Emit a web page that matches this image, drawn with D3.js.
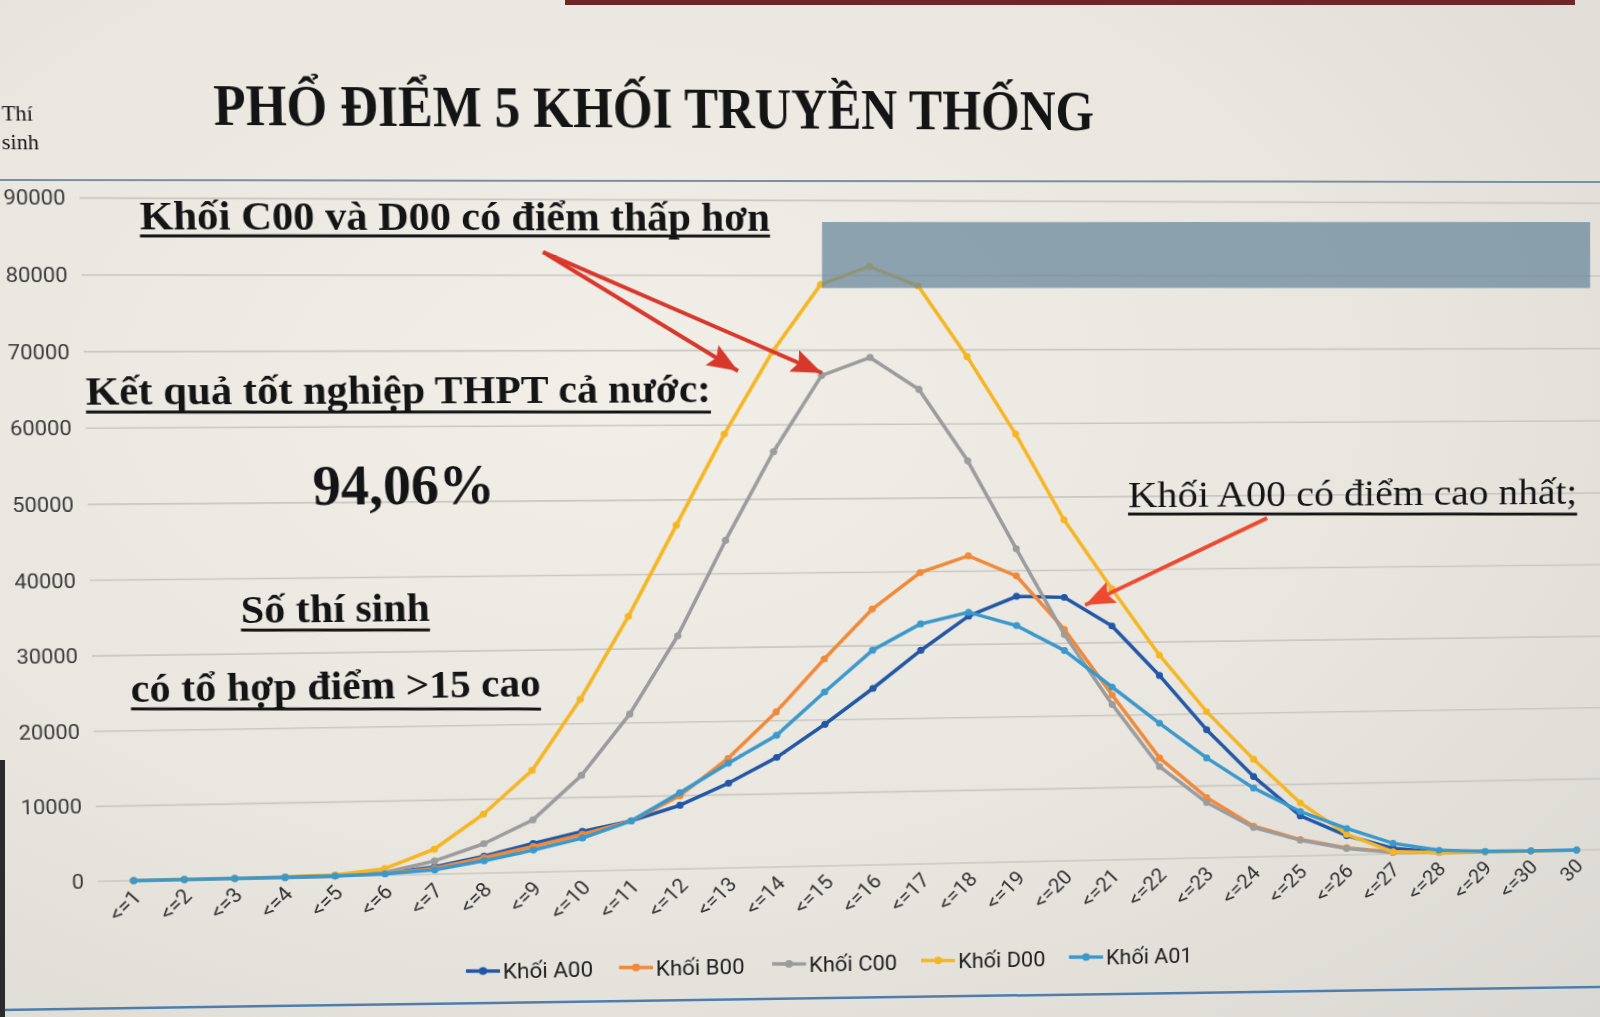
<!DOCTYPE html>
<html>
<head>
<meta charset="utf-8">
<script src="https://cdn.jsdelivr.net/npm/d3@7"></script>
<style>
html, body { margin: 0; padding: 0; width: 1600px; height: 1017px; overflow: hidden; }
body { background: radial-gradient(ellipse at 38% 38%, #f2efe9 0%, #e9e6df 55%, #dad8d2 100%); }
#chart { position: absolute; left: 0; top: 0; transform-origin: 0 0; overflow: visible; }
#frame { position: absolute; left: 0; top: 0; }
</style>
</head>
<body>
<svg id="chart" width="1600" height="1017"></svg>
<svg id="frame" width="1600" height="1017"></svg>
<script>
// ---------------- data ----------------
const categories = ["<=1","<=2","<=3","<=4","<=5","<=6","<=7","<=8","<=9","<=10",
  "<=11","<=12","<=13","<=14","<=15","<=16","<=17","<=18","<=19","<=20",
  "<=21","<=22","<=23","<=24","<=25","<=26","<=27","<=28","<=29","<=30","30"];

const khoiA00 = [0,0,0,20,80,300,1000,2300,3900,5400,6700,8700,11600,15000,19400,24200,
  29300,33900,36500,36300,32300,25400,17800,11200,5600,2700,800,150,50,20,10];
const khoiB00 = [0,0,0,10,60,250,800,2100,3500,5000,6700,10000,15000,21200,28300,35000,
  39900,42100,39300,31900,22800,14000,8400,4300,2300,1000,300,80,20,5,0];
const khoiC00 = [0,0,0,10,50,400,1800,4000,7100,13000,21200,31700,44500,56400,66600,69000,
  64700,55000,43000,31200,21500,12800,7700,4100,2200,900,200,50,10,0,0];
const khoiD00 = [0,0,10,50,200,900,3400,8000,13800,23300,34400,46600,58800,69800,78800,81200,
  78600,69100,58600,46900,37400,28200,20300,13600,7400,2900,300,50,10,0,0];
const khoiA01 = [0,0,0,10,50,200,600,1700,3000,4500,6700,10400,14300,18000,23800,29400,
  32900,34400,32500,29000,23900,18800,13900,9600,6200,3700,1500,400,100,30,10];

const seriesNames = ["Khối A00","Khối B00","Khối C00","Khối D00","Khối A01"];
const seriesValues = [khoiA00, khoiB00, khoiC00, khoiD00, khoiA01];
const yTicks = [0,10000,20000,30000,40000,50000,60000,70000,80000,90000];

// ---------------- styles ----------------
const colors = ["#2157a6","#f08a3a","#9c9c9c","#f6b624","#3a98cc"];
const sansFont = "Roboto, 'Liberation Sans', sans-serif";
const serifFont = "'Liberation Serif', 'Times New Roman', serif";

// ---------------- photo perspective (homography) ----------------
function solveLinear(A, b) {
  const n = b.length;
  const M = A.map((row, i) => row.concat([b[i]]));
  for (let c = 0; c < n; c++) {
    let p = c;
    for (let r = c + 1; r < n; r++) if (Math.abs(M[r][c]) > Math.abs(M[p][c])) p = r;
    const tmp = M[c]; M[c] = M[p]; M[p] = tmp;
    for (let r = 0; r < n; r++) {
      if (r === c) continue;
      const f = M[r][c] / M[c][c];
      for (let k = c; k <= n; k++) M[r][k] -= f * M[c][k];
    }
  }
  return M.map((row, i) => row[n] / row[i]);
}
function homography(src, dst) {
  const A = [], b = [];
  src.forEach(([X, Y], i) => {
    const [x, y] = dst[i];
    A.push([X, Y, 1, 0, 0, 0, -X * x, -Y * x]); b.push(x);
    A.push([0, 0, 0, X, Y, 1, -X * y, -Y * y]); b.push(y);
  });
  return solveLinear(A, b);
}
function applyH(h, X, Y) {
  const w = h[6] * X + h[7] * Y + 1;
  return [(h[0] * X + h[1] * Y + h[2]) / w, (h[3] * X + h[4] * Y + h[5]) / w];
}
const flatPts  = [[134, 880], [1576, 880], [134, 275], [1576, 275]];
const photoPts = [[133.7, 880.6], [1576.5, 850], [118, 275], [1581, 276]];
const Hm = homography(flatPts, photoPts);
const Hi = homography(photoPts, flatPts);
const unproject = (x, y) => applyH(Hi, x, y);
const f = v => v.toFixed(10);
d3.select("#chart").style("transform",
  `matrix3d(${f(Hm[0])},${f(Hm[3])},0,${f(Hm[6])},${f(Hm[1])},${f(Hm[4])},0,${f(Hm[7])},0,0,1,0,${f(Hm[2])},${f(Hm[5])},0,1)`);

// ---------------- scales ----------------
const svg = d3.select("#chart");
const x = d3.scalePoint().domain(categories).range([134, 1576]);
const y = d3.scaleLinear().domain([0, 80000]).range([880, 275]);

// gridlines
svg.append("g").selectAll("line").data(yTicks).join("line")
  .attr("x1", 100).attr("x2", 1612)
  .attr("y1", d => y(d)).attr("y2", d => y(d))
  .attr("stroke", "#c9c7c2").attr("stroke-width", 1.6);

// y axis labels
const yAxis = d3.axisLeft(y).tickValues(yTicks).tickSize(0).tickPadding(0).tickFormat(d3.format("d"));
const yg = svg.append("g").attr("transform", "translate(87,0)").call(yAxis);
yg.select(".domain").remove();
yg.selectAll("text").attr("font-family", sansFont).attr("font-size", 20.5).attr("fill", "#3a3a3a");

// x axis labels
svg.append("g").selectAll("text").data(categories).join("text")
  .attr("transform", d => `translate(${x(d) + 8},${898}) rotate(-45)`)
  .attr("text-anchor", "end")
  .attr("font-family", sansFont).attr("font-size", 21).attr("fill", "#333")
  .text(d => d);

// series
const line = d3.line().x((d, i) => x(categories[i])).y(d => y(d));
seriesValues.forEach((vals, s) => {
  const g = svg.append("g");
  g.append("path").datum(vals).attr("d", line)
    .attr("fill", "none").attr("stroke", colors[s]).attr("stroke-width", 3.6)
    .attr("stroke-linejoin", "round");
  g.selectAll("circle").data(vals).join("circle")
    .attr("cx", (d, i) => x(categories[i])).attr("cy", d => y(d)).attr("r", 3.6)
    .attr("fill", colors[s]);
});

// legend
const legendX = [466, 619, 772, 921, 1069];
seriesNames.forEach((name, s) => {
  const px = legendX[s];
  const py = 971 - (px - 466) * 14 / 603;
  const [a0, b0] = unproject(px, py);
  const [a1, b1] = unproject(px + 34, py);
  const [tx, ty] = unproject(px + 37, py + 8);
  svg.append("line").attr("x1", a0).attr("y1", b0).attr("x2", a1).attr("y2", b1)
    .attr("stroke", colors[s]).attr("stroke-width", 3.6);
  svg.append("circle").attr("cx", (a0 + a1) / 2).attr("cy", (b0 + b1) / 2).attr("r", 4).attr("fill", colors[s]);
  svg.append("text").attr("x", tx).attr("y", ty).attr("font-family", sansFont)
    .attr("font-size", 22).attr("fill", "#1e1e1e").text(name);
});

// highlight box
const boxPts = [[822, 222], [1590, 222], [1590, 288], [822, 288]].map(p => unproject(p[0], p[1]));
svg.append("polygon").attr("points", boxPts.map(p => p.join(",")).join(" "))
  .attr("fill", "#65869a").attr("opacity", 0.72);

// arrows
const defs = svg.append("defs");
[["ahRed", "#d8382b"], ["ahOrange", "#ee4a30"]].forEach(([id, c]) => {
  defs.append("marker").attr("id", id).attr("markerUnits", "userSpaceOnUse")
    .attr("markerWidth", 30).attr("markerHeight", 24).attr("refX", 30).attr("refY", 12)
    .attr("orient", "auto")
    .append("path").attr("d", "M0,0 L30,12 L0,24 L5,12 Z").attr("fill", c);
});
function arrow(x0, y0, x1, y1, id, c) {
  const [a, b] = unproject(x0, y0), [cc, d] = unproject(x1, y1);
  svg.append("line").attr("x1", a).attr("y1", b).attr("x2", cc).attr("y2", d)
    .attr("stroke", c).attr("stroke-width", 4).attr("marker-end", `url(#${id})`);
}
arrow(543, 252, 738, 371, "ahRed", "#d8382b");
arrow(543, 252, 822, 373, "ahRed", "#d8382b");
arrow(1267, 518, 1085, 605, "ahOrange", "#ee4a30");

// annotation texts (placed by their photo positions)
function note(text, xl, xr, yb, size, weight, underlineY) {
  const [fx, fy] = unproject(xl, yb);
  const [fx2] = unproject(xr, yb);
  svg.append("text").attr("x", fx).attr("y", fy)
    .attr("textLength", fx2 - fx).attr("lengthAdjust", "spacingAndGlyphs")
    .attr("font-family", serifFont).attr("font-size", size).attr("font-weight", weight)
    .attr("fill", "#141414").text(text);
  if (underlineY) {
    const [u0, v0] = unproject(xl, underlineY), [u1, v1] = unproject(xr, underlineY);
    svg.append("line").attr("x1", u0).attr("y1", v0).attr("x2", u1).attr("y2", v1)
      .attr("stroke", "#141414").attr("stroke-width", 3);
  }
}
note("PHỔ ĐIỂM 5 KHỐI TRUYỀN THỐNG", 214, 1094, 125, 57, "bold", null);
note("Thí", 2, 33, 120, 22, "normal", null);
note("sinh", 2, 39, 149, 22, "normal", null);
note("Khối C00 và D00 có điểm thấp hơn", 140, 770, 229, 40, "bold", 236);
note("Kết quả tốt nghiệp THPT cả nước:", 86, 711, 405, 40, "bold", 412);
note("94,06%", 313, 495, 505, 56, "bold", null);
note("Số thí sinh", 241, 430, 623, 40, "bold", 630);
note("có tổ hợp điểm >15 cao", 131, 541, 702, 40, "bold", 709);
note("Khối A00 có điểm cao nhất;", 1128, 1577, 507, 38, "normal", 514);

// ---------------- photo frame (screen edges) ----------------
const frame = d3.select("#frame");
frame.append("rect").attr("x", 565).attr("y", 0).attr("width", 1010).attr("height", 5).attr("fill", "#6e2626");
frame.append("line").attr("x1", 0).attr("y1", 180).attr("x2", 1600).attr("y2", 182)
  .attr("stroke", "#7890a3").attr("stroke-width", 2);
frame.append("line").attr("x1", 0).attr("y1", 1010).attr("x2", 1600).attr("y2", 987)
  .attr("stroke", "#4d7eae").attr("stroke-width", 2.5);
frame.append("rect").attr("x", 0).attr("y", 760).attr("width", 5).attr("height", 257).attr("fill", "#2b2b2b");
</script>
</body>
</html>
